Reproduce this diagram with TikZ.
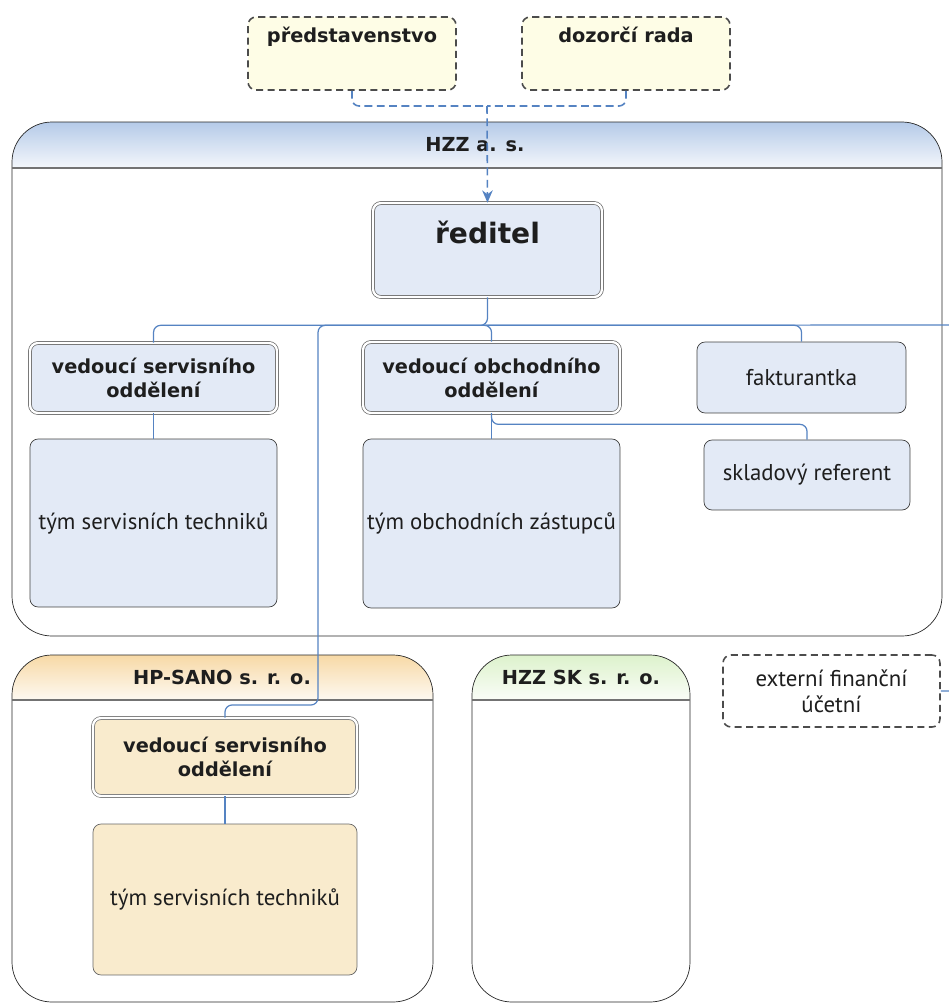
\documentclass[tikz,border=0pt]{standalone}
\usepackage{fontspec}
\usetikzlibrary{arrows.meta}
\setmainfont{PT Sans}
\newfontfamily\boldface{DejaVu Sans}
\definecolor{boxblue}{HTML}{E3EAF6}
\definecolor{linkblue}{HTML}{5583C2}
\definecolor{hzzhead}{HTML}{B5CAE8}
\definecolor{hphead}{HTML}{F7D9A6}
\definecolor{skhead}{HTML}{DDF2CC}
\definecolor{boardyellow}{HTML}{FEFDE6}
\definecolor{hptan}{HTML}{F9EBCD}
\definecolor{inktext}{HTML}{1E1E1E}
\tikzset{
  unit/.style={draw=black!75, fill=boxblue, rounded corners=0.16cm, inner sep=2pt,
    align=center, text=inktext, font=\fontsize{13}{15}\selectfont},
  headunit/.style={unit, double=white, draw=black!60, double distance=1.3pt,
    font=\boldface\bfseries\fontsize{11}{13.6}\selectfont},
  board/.style={unit, dash pattern=on 4pt off 2.5pt, draw=black!70, fill=boardyellow, line width=0.9pt,
    font=\boldface\bfseries\fontsize{11}{13.6}\selectfont, inner sep=0pt},
  orgtitle/.style={text=inktext, font=\boldface\bfseries\fontsize{11}{13.6}\selectfont},
  link/.style={draw=linkblue, line width=0.7pt, rounded corners=4pt},
  dlink/.style={link, dash pattern=on 4.5pt off 2.5pt, line width=0.9pt}
}
\begin{document}
\begin{tikzpicture}[x=0.02cm, y=-0.02cm, >={Stealth[length=7pt, width=6pt]}]
  \useasboundingbox (0,0) rectangle (949,1004);
  % companies: left/right/top/bottom/header line/colour
  \foreach \xa/\xb/\ya/\yb/\yh/\col in {12/942/122/636/168/hzzhead,
      12/433/655/1002/700/hphead, 472/690/655/1002/700/skhead} {
    \pgfmathsetmacro\ym{(\ya+\yb)/2}
    \begin{scope}
      \clip[rounded corners=0.8cm] (\xa,\ym) -- (\xa,\ya) -- (\xb,\ya) -- (\xb,\yb) -- (\xa,\yb) -- cycle;
      \shade[top color=\col, bottom color=\col!15!white] (\xa,\ya) rectangle (\xb,\yh);
    \end{scope}
    \draw[black!85, rounded corners=0.8cm] (\xa,\ym) -- (\xa,\ya) -- (\xb,\ya) -- (\xb,\yb) -- (\xa,\yb) -- cycle;
    \draw[black!55, line width=1pt] (\xa,\yh) -- (\xb,\yh);
  }
  \node[orgtitle] (hzz) at (475,145) {HZZ a. s.};
  \node[orgtitle] (hp) at (222,677) {HP-SANO s. r. o.};
  \node[orgtitle] (sk) at (581,677) {HZZ SK s. r. o.};
  % boards
  \node[board, minimum width=4.16cm, minimum height=1.46cm, text height=0.5cm, text depth=0.96cm]
    (predst) at (352,53.5) {představenstvo};
  \node[board, minimum width=4.16cm, minimum height=1.46cm, text height=0.5cm, text depth=0.96cm]
    (dozor) at (626,53.5) {dozorčí rada};
  % HZZ a. s.
  \node[headunit, minimum width=4.58cm, minimum height=1.88cm, inner sep=0pt, text height=0.8cm,
    text depth=1.08cm, font=\boldface\bfseries\fontsize{16}{19}\selectfont] (reditel) at (487.5,250) {ředitel};
  \node[headunit, minimum width=4.94cm, minimum height=1.40cm] (vedserv) at (153.5,378)
    {vedoucí servisního\\oddělení};
  \node[unit, minimum width=4.94cm, minimum height=3.36cm] (tymserv) at (153.5,523)
    {tým servisních techniků};
  \node[headunit, minimum width=5.14cm, minimum height=1.42cm] (vedobch) at (491.5,377.5)
    {vedoucí obchodního\\oddělení};
  \node[unit, minimum width=5.14cm, minimum height=3.38cm] (tymobch) at (491.5,523.5)
    {tým obchodních zástupců};
  \node[unit, minimum width=4.18cm, minimum height=1.42cm] (fakt) at (801.5,377.5) {fakturantka};
  \node[unit, minimum width=4.12cm, minimum height=1.40cm] (sklad) at (807,475) {skladový referent};
  % HP-SANO s. r. o.
  \node[headunit, fill=hptan, draw=black!55, minimum width=5.28cm, minimum height=1.56cm]
    (hpved) at (225,757) {vedoucí servisního\\oddělení};
  \node[unit, fill=hptan, draw=black!60, minimum width=5.28cm, minimum height=3.02cm]
    (hptym) at (225,899.5) {tým servisních techniků};
  % external
  \node[unit, dash pattern=on 4pt off 2.5pt, line width=0.9pt, fill=white, draw=black!70,
    minimum width=4.34cm, minimum height=1.44cm] (ext) at (831.5,691) {externí finanční\\účetní};
  % connectors
  \coordinate (topbus) at (487,106);
  \draw[dlink] (predst.south) |- (topbus);
  \draw[dlink] (dozor.south) |- (topbus);
  \draw[dlink, ->] (topbus) -- (reditel.north);
  \draw[link] (reditel.south) -- ++(0,28) coordinate (rbus) -| (vedserv.north);
  \draw[link] (rbus) -| (vedobch.north);
  \draw[link] (rbus) -| (fakt.north);
  \draw[link] (rbus) -- (965,325) |- (ext.east);
  \coordinate (hpbend) at (318,705);
  \draw[link] (rbus) -| (hpbend) -| (hpved.north);
  \draw[link] (vedserv.south) -- (tymserv.north);
  \draw[link] (vedobch.south) -- (tymobch.north);
  \draw[link] (vedobch.south) -- ++(0,11) -| (sklad.north);
  \draw[link] (hpved.south) -- (hptym.north);
\end{tikzpicture}
\end{document}
